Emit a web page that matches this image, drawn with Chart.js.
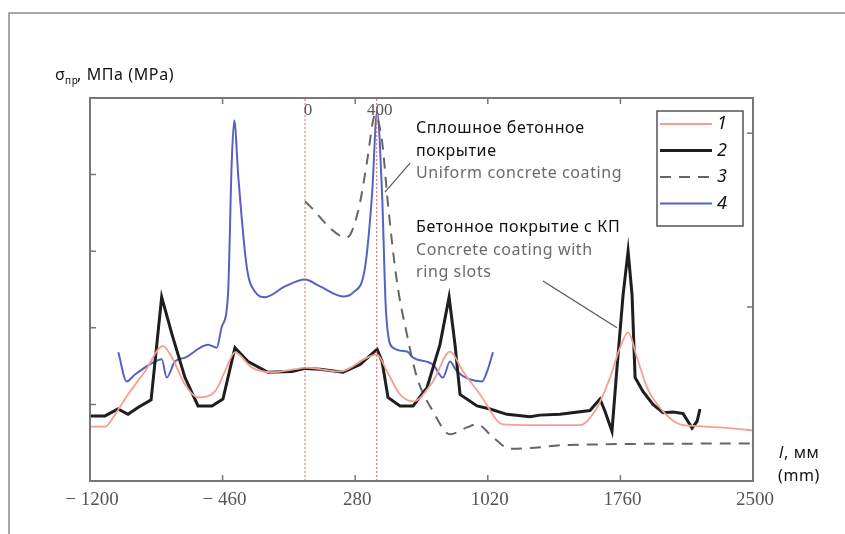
<!DOCTYPE html>
<html>
<head>
<meta charset="utf-8">
<script src="https://cdn.jsdelivr.net/npm/chart.js@4/dist/chart.umd.min.js"></script>
<style>
  body { margin: 0; background: #fff; }
  canvas { display: block; }
</style>
</head>
<body>
<canvas id="stressChart" width="845" height="534"></canvas>
<script>
// x ticks (mm) and y range (unlabelled)
const xTicks = [-1200, -460, 280, 1020, 1760, 2500];
const yTicksLeft = [1, 2, 3, 4];
const yTicksRight = [2.27, 4.54];
const markerX = [0, 400];

// 1 - red
const s1X = [-1200, -1116, -1060, -988, -893, -793, -742, -670, -597, -502, -447, -391, -296, -184, -56, 0, 195, 346, 402, 458, 530, 603, 714, 809, 882, 977, 1105, 1256, 1535, 1630, 1702, 1758, 1803, 1853, 1909, 1998, 2093, 2165, 2316, 2500];
const s1Y = [0.71, 0.71, 0.87, 1.13, 1.43, 1.76, 1.61, 1.26, 1.09, 1.17, 1.43, 1.68, 1.48, 1.42, 1.46, 1.48, 1.43, 1.61, 1.65, 1.43, 1.13, 1.04, 1.30, 1.69, 1.43, 1.13, 0.74, 0.73, 0.73, 0.96, 1.35, 1.74, 1.94, 1.61, 1.22, 0.91, 0.74, 0.72, 0.70, 0.66];

// 2 - black
const s2X = [-1200, -1116, -1044, -988, -932, -859, -800, -742, -670, -597, -519, -458, -391, -318, -207, -73, 0, 84, 212, 307, 402, 430, 463, 530, 603, 681, 753, 804, 837, 865, 960, 1032, 1127, 1256, 1311, 1423, 1590, 1646, 1674, 1713, 1741, 1775, 1803, 1825, 1842, 1886, 1942, 1998, 2054, 2110, 2160, 2188, 2204];
const s2Y = [0.85, 0.85, 0.94, 0.87, 0.96, 1.06, 2.40, 1.91, 1.35, 0.98, 0.98, 1.07, 1.74, 1.56, 1.42, 1.43, 1.47, 1.46, 1.42, 1.52, 1.72, 1.56, 1.09, 0.98, 0.98, 1.22, 1.78, 2.40, 1.78, 1.13, 0.98, 0.94, 0.87, 0.84, 0.86, 0.87, 0.92, 1.07, 0.91, 0.65, 1.48, 2.43, 3.00, 2.43, 1.35, 1.17, 1.00, 0.89, 0.90, 0.88, 0.69, 0.78, 0.94];

// 3 - dashed grey
const s3X = [0, 234, 296, 346, 380, 390, 430, 463, 513, 569, 625, 714, 809, 904, 960, 1049, 1144, 1256, 1462, 2500];
const s3Y = [3.65, 3.18, 3.52, 4.17, 4.71, 4.78, 4.43, 3.61, 2.60, 1.91, 1.35, 0.91, 0.61, 0.70, 0.74, 0.57, 0.42, 0.43, 0.47, 0.49];

// 4 - blue
const s4X = [-1042, -995, -949, -837, -800, -772, -726, -670, -541, -493, -465, -430, -409, -395, -372, -325, -279, -223, -112, 0, 84, 212, 268, 335, 374, 402, 430, 452, 491, 569, 603, 714, 770, 809, 848, 988, 1016, 1049];
const s4Y = [1.68, 1.30, 1.39, 1.56, 1.59, 1.35, 1.56, 1.61, 1.78, 1.74, 2.01, 2.43, 4.17, 4.71, 3.96, 2.79, 2.47, 2.40, 2.54, 2.63, 2.54, 2.41, 2.46, 2.79, 3.74, 4.82, 3.74, 2.21, 1.74, 1.69, 1.61, 1.52, 1.35, 1.56, 1.43, 1.30, 1.43, 1.68];

const pts = (xs, ys) => xs.map((x, i) => ({ x: x, y: ys[i] }));

const markerSets = markerX.map(function (mx) {
  return {
    label: '',
    data: [{ x: mx, y: 0 }, { x: mx, y: 5 }],
    borderColor: '#e0605a',
    borderWidth: 1,
    borderDash: [2, 2],
    pointRadius: 0,
    isMarker: true
  };
});

const fmt = v => v < 0 ? '\u2212 ' + Math.abs(v) : String(v);

const decor = {
  id: 'decor',
  afterDatasetsDraw(chart) {
    const ctx = chart.ctx;
    const a = chart.chartArea;
    const xs = chart.scales.x, ys = chart.scales.y;
    ctx.save();

    // outer border
    ctx.strokeStyle = '#8a8a8a';
    ctx.lineWidth = 1.5;
    ctx.beginPath();
    ctx.moveTo(9, 534); ctx.lineTo(9, 13); ctx.lineTo(845, 13);
    ctx.stroke();

    // plot frame
    ctx.strokeStyle = '#777';
    ctx.lineWidth = 2;
    ctx.strokeRect(a.left, a.top, a.right - a.left, a.bottom - a.top);

    // inward ticks
    ctx.lineWidth = 1.5;
    ctx.beginPath();
    xs.ticks.forEach(function (t) {
      const px = xs.getPixelForValue(t.value);
      if (px <= a.left + 1 || px >= a.right - 1) return;
      ctx.moveTo(px, a.bottom); ctx.lineTo(px, a.bottom - 6);
      ctx.moveTo(px, a.top); ctx.lineTo(px, a.top + 6);
    });
    yTicksLeft.forEach(function (v) {
      const py = ys.getPixelForValue(v);
      ctx.moveTo(a.left, py); ctx.lineTo(a.left + 6, py);
    });
    yTicksRight.forEach(function (v) {
      const py = ys.getPixelForValue(v);
      ctx.moveTo(a.right, py); ctx.lineTo(a.right - 6, py);
    });
    ctx.stroke();

    // x tick labels
    ctx.fillStyle = '#555';
    ctx.font = '19px "Liberation Serif"';
    ctx.textAlign = 'center';
    ctx.textBaseline = 'middle';
    xs.ticks.forEach(function (t) {
      ctx.fillText(fmt(t.value), xs.getPixelForValue(t.value) + 2, a.bottom + 19);
    });
    ctx.font = '17px "Liberation Serif"';
    markerX.forEach(function (v) {
      ctx.fillText(String(v), xs.getPixelForValue(v) + 3, a.top + 13);
    });

    // y axis title
    ctx.fillStyle = '#111';
    ctx.textAlign = 'left';
    ctx.textBaseline = 'alphabetic';
    ctx.letterSpacing = '0.6px';
    ctx.font = '16px "Noto Sans"';
    ctx.fillText('\u03c3', 55, 80);
    ctx.font = '10px "Noto Sans"';
    ctx.fillText('\u043f\u0440', 65, 84);
    ctx.font = '16px "Noto Sans"';
    ctx.fillText(', \u041c\u041f\u0430 (MPa)', 77, 80);

    // x axis title
    ctx.font = 'italic 16px "Noto Sans"';
    ctx.fillText('l', 779, 458);
    ctx.font = '16px "Noto Sans"';
    ctx.fillText(', \u043c\u043c', 784, 458);
    ctx.fillText('(mm)', 778, 481);

    // annotations
    ctx.fillStyle = '#111';
    ctx.fillText('\u0421\u043f\u043b\u043e\u0448\u043d\u043e\u0435 \u0431\u0435\u0442\u043e\u043d\u043d\u043e\u0435', 416, 133);
    ctx.fillText('\u043f\u043e\u043a\u0440\u044b\u0442\u0438\u0435', 416, 156);
    ctx.fillText('\u0411\u0435\u0442\u043e\u043d\u043d\u043e\u0435 \u043f\u043e\u043a\u0440\u044b\u0442\u0438\u0435 \u0441 \u041a\u041f', 416, 232);
    ctx.fillStyle = '#6a6a6a';
    ctx.fillText('Uniform concrete coating', 416, 178);
    ctx.fillText('Concrete coating with', 416, 255);
    ctx.fillText('ring slots', 416, 277);
    ctx.letterSpacing = '0px';

    // leader lines (data units)
    ctx.strokeStyle = '#555';
    ctx.lineWidth = 1.2;
    ctx.beginPath();
    ctx.moveTo(xs.getPixelForValue(586), ys.getPixelForValue(4.15));
    ctx.lineTo(xs.getPixelForValue(446), ys.getPixelForValue(3.77));
    ctx.moveTo(xs.getPixelForValue(1328), ys.getPixelForValue(2.61));
    ctx.lineTo(xs.getPixelForValue(1741), ys.getPixelForValue(2.0));
    ctx.stroke();

    // legend box
    const bx = 657, by = 111, bw = 86, bh = 115;
    ctx.fillStyle = '#fff';
    ctx.fillRect(bx, by, bw, bh);
    ctx.strokeStyle = '#555';
    ctx.lineWidth = 1.5;
    ctx.strokeRect(bx, by, bw, bh);
    let row = 0;
    chart.data.datasets.forEach(function (ds) {
      if (ds.isMarker) return;
      const ly = by + 13 + row * 26.5;
      ctx.strokeStyle = ds.borderColor;
      ctx.lineWidth = ds.borderWidth;
      ctx.setLineDash(ds.borderDash || []);
      ctx.beginPath();
      ctx.moveTo(bx + 3, ly); ctx.lineTo(bx + 55, ly);
      ctx.stroke();
      ctx.setLineDash([]);
      ctx.fillStyle = '#111';
      ctx.font = 'italic 18px "Noto Sans"';
      ctx.textBaseline = 'middle';
      ctx.fillText(ds.label, bx + 60, ly);
      row++;
    });
    ctx.restore();
  }
};

new Chart(document.getElementById('stressChart'), {
  type: 'line',
  data: {
    datasets: markerSets.concat([
      {
        label: '1',
        data: pts(s1X, s1Y),
        borderColor: '#f3a091',
        borderWidth: 1.8,
        pointRadius: 0,
        cubicInterpolationMode: 'monotone'
      },
      {
        label: '2',
        data: pts(s2X, s2Y),
        borderColor: '#1e1e1e',
        borderWidth: 3,
        pointRadius: 0
      },
      {
        label: '3',
        data: pts(s3X, s3Y),
        borderColor: '#666',
        borderWidth: 2,
        borderDash: [11, 8],
        pointRadius: 0,
        cubicInterpolationMode: 'monotone'
      },
      {
        label: '4',
        data: pts(s4X, s4Y),
        borderColor: '#5562c4',
        borderWidth: 2,
        pointRadius: 0,
        cubicInterpolationMode: 'monotone'
      }
    ])
  },
  options: {
    responsive: false,
    animation: false,
    layout: { padding: { left: 90, top: 98, right: 92, bottom: 53 } },
    plugins: { legend: { display: false }, tooltip: { enabled: false } },
    scales: {
      x: {
        type: 'linear',
        display: false,
        min: -1200,
        max: 2500,
        afterBuildTicks: function (scale) {
          scale.ticks = xTicks.map(v => ({ value: v }));
        }
      },
      y: { display: false, min: 0, max: 5 }
    }
  },
  plugins: [decor]
});
</script>
</body>
</html>
